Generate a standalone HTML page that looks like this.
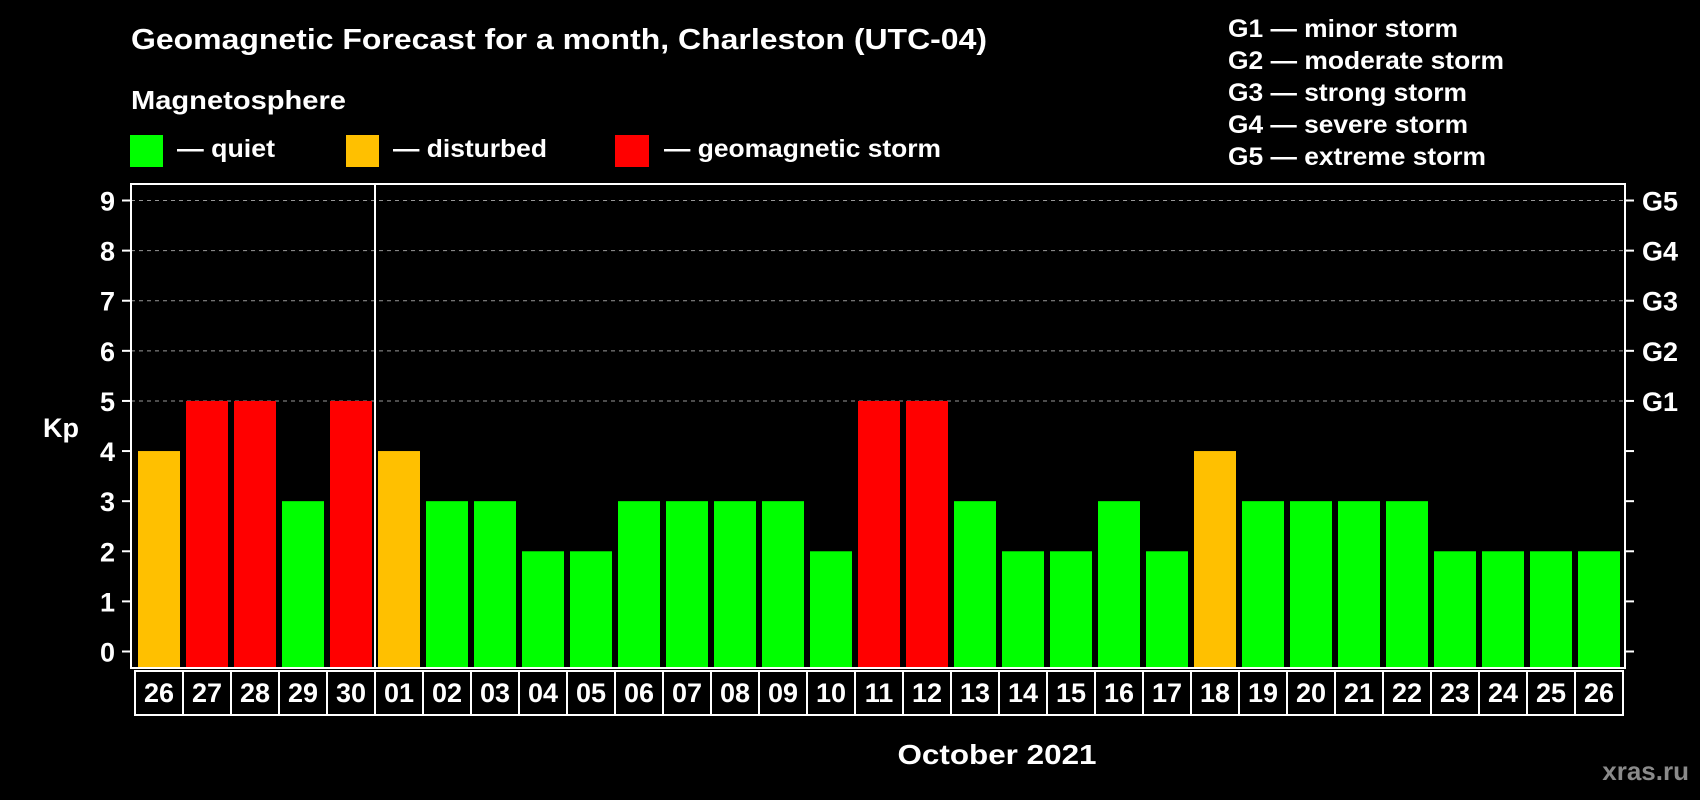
<!DOCTYPE html>
<html><head><meta charset="utf-8"><style>
html,body{margin:0;padding:0;background:#000;}
svg{display:block;font-family:"Liberation Sans",Arial,sans-serif;font-weight:bold;}
</style></head><body>
<svg id="chart" width="1700" height="800" viewBox="0 0 1700 800" xmlns="http://www.w3.org/2000/svg">
<rect width="1700" height="800" fill="#000"/>
<text x="131" y="49" fill="#fff" font-size="29" textLength="856" lengthAdjust="spacingAndGlyphs">Geomagnetic Forecast for a month, Charleston (UTC-04)</text>
<text x="131" y="109" fill="#fff" font-size="26" textLength="215" lengthAdjust="spacingAndGlyphs">Magnetosphere</text>
<g>
<rect x="130" y="135" width="33" height="32" fill="#00ff00"/>
<text x="177" y="157" fill="#fff" font-size="25" textLength="98" lengthAdjust="spacingAndGlyphs">— quiet</text>
<rect x="346" y="135" width="33" height="32" fill="#ffc000"/>
<text x="393" y="157" fill="#fff" font-size="25" textLength="154" lengthAdjust="spacingAndGlyphs">— disturbed</text>
<rect x="615" y="135" width="34" height="32" fill="#ff0000"/>
<text x="664" y="157" fill="#fff" font-size="25" textLength="277" lengthAdjust="spacingAndGlyphs">— geomagnetic storm</text>
</g>
<g fill="#fff" font-size="25">
<text x="1228" y="37" textLength="230" lengthAdjust="spacingAndGlyphs">G1 — minor storm</text>
<text x="1228" y="69" textLength="276" lengthAdjust="spacingAndGlyphs">G2 — moderate storm</text>
<text x="1228" y="101" textLength="239" lengthAdjust="spacingAndGlyphs">G3 — strong storm</text>
<text x="1228" y="133" textLength="240" lengthAdjust="spacingAndGlyphs">G4 — severe storm</text>
<text x="1228" y="165" textLength="258" lengthAdjust="spacingAndGlyphs">G5 — extreme storm</text>
</g>
<text x="43" y="437" fill="#fff" font-size="27">Kp</text>
<text x="997" y="764" fill="#fff" font-size="28" text-anchor="middle" textLength="199" lengthAdjust="spacingAndGlyphs">October 2021</text>
<text x="1689" y="780" fill="#8a8a8a" font-size="26" text-anchor="end">xras.ru</text>
<g id="plot"></g>
</svg>
<script>
const days = ["26","27","28","29","30","01","02","03","04","05","06","07","08","09","10","11","12","13","14","15","16","17","18","19","20","21","22","23","24","25","26"];
const kpValues = [4,5,5,3,5,4,3,3,2,2,3,3,3,3,2,5,5,3,2,2,3,2,4,3,3,3,3,2,2,2,2];
const yTicks = [0,1,2,3,4,5,6,7,8,9];
const gLabels = ["","","","","","G1","G2","G3","G4","G5"];
const monthStartIndex = 5;

const NS = "http://www.w3.org/2000/svg";
const plot = document.getElementById("plot");
const L = 131, R = 1625, T = 184, B = 668;
const Y0 = 651.5, Y9 = 200.5;
const y = v => Y0 - (Y0 - Y9) * v / 9;
const X0 = 159, STEP = 48;
const x = i => X0 + STEP * i;
const BW = 42;
function mk(tag, attrs, parent) {
  const e = document.createElementNS(NS, tag);
  for (const k in attrs) e.setAttribute(k, attrs[k]);
  (parent || plot).appendChild(e);
  return e;
}
function color(v) { return v >= 5 ? "#ff0000" : (v >= 4 ? "#ffc000" : "#00ff00"); }

yTicks.forEach((t, k) => {
  if (t >= 5) {
    const g = mk("line", {x1: L, x2: R, y1: y(t), y2: y(t), stroke: "#999", "stroke-width": 1, "stroke-dasharray": "4,4"});
    
    
  }
  const tl = mk("line", {x1: L - 9, x2: L, y1: y(t), y2: y(t), stroke: "#fff", "stroke-width": 2});
  
  
  const tr = mk("line", {x1: R, x2: R + 9, y1: y(t), y2: y(t), stroke: "#fff", "stroke-width": 2});
  
  
  const lab = mk("text", {x: 115, y: y(t) + 10, fill: "#fff", "font-size": 27, "text-anchor": "end"});
  lab.textContent = t;
  
  
  if (gLabels[k]) {
    const gl = mk("text", {x: 1642, y: y(t) + 10, fill: "#fff", "font-size": 27});
    gl.textContent = gLabels[k];
    
    
  }
});

kpValues.forEach((v, i) => {
  const b = mk("rect", {x: x(i) - BW / 2, y: y(v), width: BW, height: B - y(v), fill: color(v)});
  
  
});

const sep = mk("line", {x1: x(monthStartIndex) - STEP / 2, x2: x(monthStartIndex) - STEP / 2, y1: T, y2: B, stroke: "#fff", "stroke-width": 2});



const fr = mk("rect", {x: L, y: T, width: R - L, height: B - T, fill: "none", stroke: "#fff", "stroke-width": 2});



days.forEach((d, i) => {
  const r = mk("rect", {x: x(i) - STEP / 2, y: 671, width: STEP, height: 44, fill: "none", stroke: "#fff", "stroke-width": 2});
  
  
  const t = mk("text", {x: x(i), y: 702, fill: "#fff", "font-size": 27, "text-anchor": "middle"});
  t.textContent = d;
  
  
});
</script>
</body></html>
